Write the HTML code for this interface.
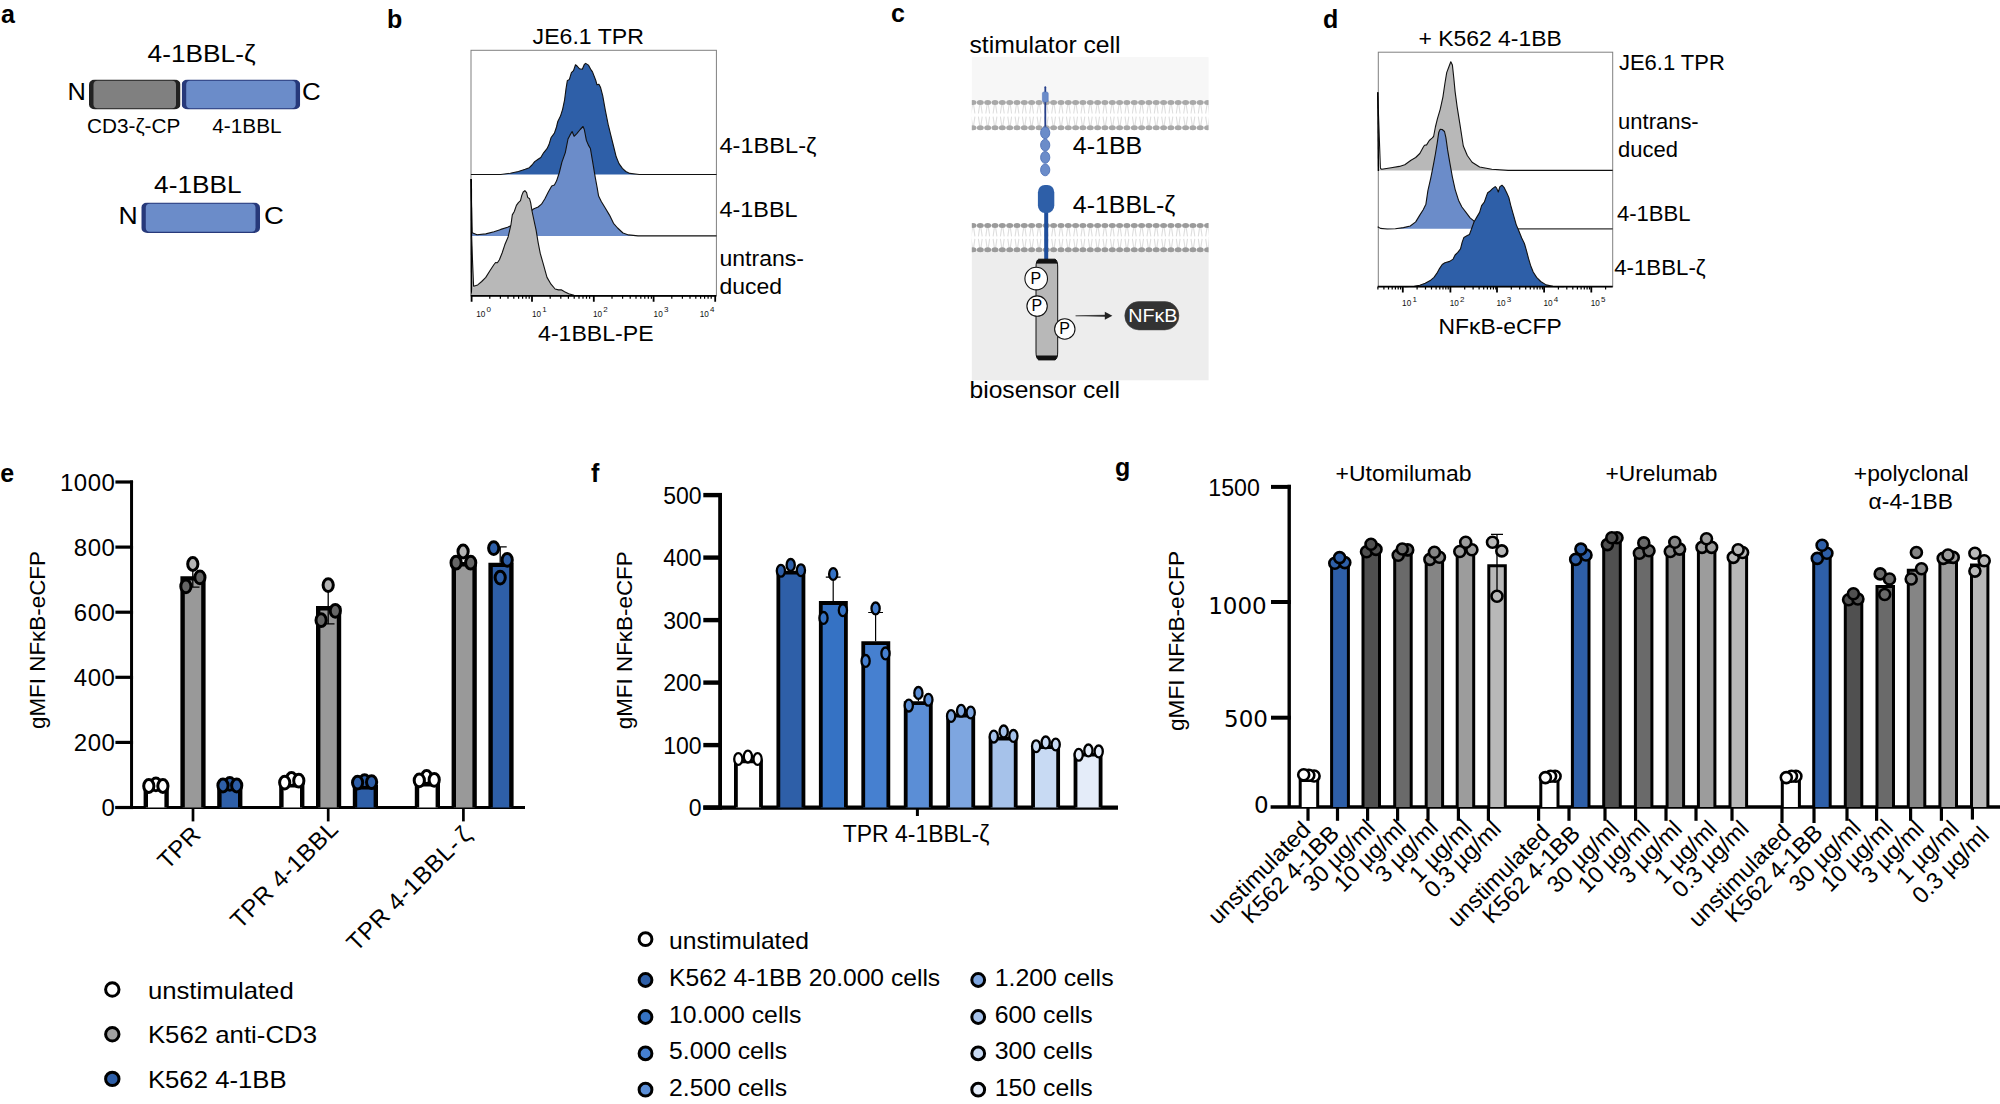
<!DOCTYPE html>
<html lang="en"><head><meta charset="utf-8"><title>Figure</title>
<style>
html,body{margin:0;padding:0;background:#fff;}
svg{display:block;font-family:'Liberation Sans', sans-serif;}
</style></head><body>
<svg width="2000" height="1104" viewBox="0 0 2000 1104">
<rect width="2000" height="1104" fill="#fff"/>
<text x="1.0" y="23.0" font-size="25.00" font-weight="bold">a</text>
<text x="387.0" y="28.0" font-size="25.00" font-weight="bold">b</text>
<text x="891.0" y="22.0" font-size="25.00" font-weight="bold">c</text>
<text x="1323.0" y="28.0" font-size="25.00" font-weight="bold">d</text>
<text x="147.6" y="62.2" font-size="24.00" textLength="107.9" lengthAdjust="spacingAndGlyphs">4-1BBL-ζ</text>
<text x="67.6" y="99.8" font-size="24.00" textLength="18.4" lengthAdjust="spacingAndGlyphs">N</text>
<text x="302.1" y="99.8" font-size="24.00" textLength="18.7" lengthAdjust="spacingAndGlyphs">C</text>
<text x="87.1" y="133.2" font-size="20.50" textLength="93.2" lengthAdjust="spacingAndGlyphs">CD3-ζ-CP</text>
<text x="212.3" y="133.2" font-size="20.50" textLength="69.3" lengthAdjust="spacingAndGlyphs">4-1BBL</text>
<text x="154.1" y="193.3" font-size="24.00" textLength="87.4" lengthAdjust="spacingAndGlyphs">4-1BBL</text>
<text x="118.6" y="223.8" font-size="24.00" textLength="19.2" lengthAdjust="spacingAndGlyphs">N</text>
<text x="264.1" y="223.8" font-size="24.00" textLength="19.9" lengthAdjust="spacingAndGlyphs">C</text>
<clipPath id="c890"><rect x="89.0" y="79.5" width="91.5" height="30.0" rx="6" ry="5"/></clipPath>
<g clip-path="url(#c890)">
<rect x="89.0" y="79.5" width="91.5" height="30.0" fill="#222222"/>
<rect x="93.5" y="80.8" width="82.5" height="27.4" rx="4" ry="4" fill="#808080"/>
</g>
<clipPath id="c1817"><rect x="181.7" y="79.5" width="118.5" height="30.0" rx="6" ry="5"/></clipPath>
<g clip-path="url(#c1817)">
<rect x="181.7" y="79.5" width="118.5" height="30.0" fill="#27397a"/>
<rect x="186.2" y="80.8" width="109.5" height="27.4" rx="4" ry="4" fill="#6b8cc9"/>
</g>
<clipPath id="c1413"><rect x="141.3" y="202.5" width="118.7" height="30.5" rx="6" ry="5"/></clipPath>
<g clip-path="url(#c1413)">
<rect x="141.3" y="202.5" width="118.7" height="30.5" fill="#27397a"/>
<rect x="145.8" y="203.8" width="109.7" height="27.9" rx="4" ry="4" fill="#6b8cc9"/>
</g>
<rect x="471.0" y="50.3" width="245.4" height="245.5" fill="none" stroke="#808080" stroke-width="1"/>
<path d="M470.9 174.5 L500.8 174.5 L510.3 173.2 L518.4 171.5 L525.2 169.3 L529.3 167.7 L532.0 165.0 L534.7 161.6 L538.1 159.3 L540.8 157.5 L543.6 152.8 L547.0 148.7 L549.0 144.6 L551.0 137.8 L554.4 133.1 L556.5 127.0 L557.8 121.5 L560.5 116.1 L562.6 109.3 L564.6 99.8 L566.0 88.9 L567.3 80.8 L569.4 79.4 L571.4 72.6 L573.5 70.6 L575.5 64.7 L577.5 66.5 L579.6 68.8 L582.3 69.2 L584.3 64.5 L585.7 63.4 L588.4 65.1 L591.1 69.9 L592.5 71.9 L595.9 80.8 L597.0 84.8 L598.9 84.2 L600.6 87.6 L602.7 95.7 L605.4 110.7 L608.1 124.2 L610.8 135.1 L613.5 146.0 L616.2 156.8 L619.0 163.6 L622.4 168.4 L625.8 171.5 L629.8 173.4 L639.3 174.5 L716.5 174.5 Z" fill="#2e5fa8" stroke="none"/>
<path d="M470.9 174.5 L500.8 174.5 L510.3 173.2 L518.4 171.5 L525.2 169.3 L529.3 167.7 L532.0 165.0 L534.7 161.6 L538.1 159.3 L540.8 157.5 L543.6 152.8 L547.0 148.7 L549.0 144.6 L551.0 137.8 L554.4 133.1 L556.5 127.0 L557.8 121.5 L560.5 116.1 L562.6 109.3 L564.6 99.8 L566.0 88.9 L567.3 80.8 L569.4 79.4 L571.4 72.6 L573.5 70.6 L575.5 64.7 L577.5 66.5 L579.6 68.8 L582.3 69.2 L584.3 64.5 L585.7 63.4 L588.4 65.1 L591.1 69.9 L592.5 71.9 L595.9 80.8 L597.0 84.8 L598.9 84.2 L600.6 87.6 L602.7 95.7 L605.4 110.7 L608.1 124.2 L610.8 135.1 L613.5 146.0 L616.2 156.8 L619.0 163.6 L622.4 168.4 L625.8 171.5 L629.8 173.4 L639.3 174.5 L716.5 174.5" fill="none" stroke="#111" stroke-width="1.1" stroke-linejoin="round"/>
<path d="M471.0 236.0 L472.2 232.8 L477.0 234.8 L485.8 233.9 L494.0 231.7 L500.8 229.4 L507.6 227.3 L514.3 223.9 L521.1 219.2 L527.9 213.8 L533.4 209.0 L538.1 207.0 L541.5 204.2 L544.9 198.8 L548.3 192.0 L551.7 185.9 L554.4 184.9 L556.5 181.1 L559.2 173.0 L561.9 162.1 L565.3 152.6 L568.0 139.0 L570.1 134.9 L572.1 131.5 L574.1 136.3 L576.8 133.6 L580.2 129.5 L583.0 126.5 L584.3 129.5 L586.4 140.4 L588.4 145.1 L590.4 148.5 L592.5 160.8 L595.2 177.1 L597.2 187.9 L598.6 196.1 L601.3 201.5 L605.4 208.3 L609.5 215.1 L613.5 223.3 L617.6 228.0 L623.0 233.0 L628.5 234.9 L638.0 235.9 L716.5 235.9 Z" fill="#6b8cc9" stroke="none"/>
<path d="M470.9 179.1 L472.2 232.8 L477.0 234.8 L485.8 233.9 L494.0 231.7 L500.8 229.4 L507.6 227.3 L514.3 223.9 L521.1 219.2 L527.9 213.8 L533.4 209.0 L538.1 207.0 L541.5 204.2 L544.9 198.8 L548.3 192.0 L551.7 185.9 L554.4 184.9 L556.5 181.1 L559.2 173.0 L561.9 162.1 L565.3 152.6 L568.0 139.0 L570.1 134.9 L572.1 131.5 L574.1 136.3 L576.8 133.6 L580.2 129.5 L583.0 126.5 L584.3 129.5 L586.4 140.4 L588.4 145.1 L590.4 148.5 L592.5 160.8 L595.2 177.1 L597.2 187.9 L598.6 196.1 L601.3 201.5 L605.4 208.3 L609.5 215.1 L613.5 223.3 L617.6 228.0 L623.0 233.0 L628.5 234.9 L638.0 235.9 L716.5 235.9" fill="none" stroke="#111" stroke-width="1.1" stroke-linejoin="round"/>
<path d="M471.2 179.0 L471.6 296.0" stroke="#000" stroke-width="1.6"/>
<path d="M471.0 295.8 L473.6 286.3 L477.7 284.9 L481.7 281.5 L485.8 277.4 L489.9 270.7 L494.0 264.5 L495.6 262.5 L497.4 262.8 L499.4 259.8 L502.1 253.0 L504.8 244.8 L508.2 236.7 L511.0 224.5 L512.3 214.9 L514.3 211.5 L516.4 205.4 L518.4 202.7 L520.5 200.7 L521.8 195.4 L523.2 192.0 L524.9 190.7 L526.6 192.7 L527.7 197.4 L529.6 198.8 L530.7 202.9 L532.0 211.0 L534.0 220.5 L536.1 230.1 L538.1 242.3 L540.2 253.2 L542.9 262.7 L547.0 277.4 L551.0 284.2 L555.1 289.0 L558.5 289.9 L561.2 289.7 L564.6 291.7 L568.7 293.8 L574.1 295.4 L716.1 295.8 Z" fill="#b8b8b8" stroke="none"/>
<path d="M471.5 236.7 L473.6 286.3 L477.7 284.9 L481.7 281.5 L485.8 277.4 L489.9 270.7 L494.0 264.5 L495.6 262.5 L497.4 262.8 L499.4 259.8 L502.1 253.0 L504.8 244.8 L508.2 236.7 L511.0 224.5 L512.3 214.9 L514.3 211.5 L516.4 205.4 L518.4 202.7 L520.5 200.7 L521.8 195.4 L523.2 192.0 L524.9 190.7 L526.6 192.7 L527.7 197.4 L529.6 198.8 L530.7 202.9 L532.0 211.0 L534.0 220.5 L536.1 230.1 L538.1 242.3 L540.2 253.2 L542.9 262.7 L547.0 277.4 L551.0 284.2 L555.1 289.0 L558.5 289.9 L561.2 289.7 L564.6 291.7 L568.7 293.8 L574.1 295.4 L716.1 295.8" fill="none" stroke="#111" stroke-width="1.1" stroke-linejoin="round"/>
<path d="M470.9 295.8 H716.2" stroke="#000" stroke-width="1.8"/>
<path d="M471.6 295.8 v6.0 M532.0 295.8 v6.0 M593.8 295.8 v6.0 M653.6 295.8 v6.0 M715.2 295.8 v6.0 " stroke="#000" stroke-width="1.8" fill="none"/>
<path d="M489.8 295.8 v3.0 M500.4 295.8 v3.0 M508.0 295.8 v3.0 M513.8 295.8 v3.0 M518.6 295.8 v3.0 M522.6 295.8 v3.0 M526.1 295.8 v3.0 M529.2 295.8 v3.0 M550.2 295.8 v3.0 M560.8 295.8 v3.0 M568.4 295.8 v3.0 M574.2 295.8 v3.0 M579.0 295.8 v3.0 M583.0 295.8 v3.0 M586.5 295.8 v3.0 M589.6 295.8 v3.0 M612.0 295.8 v3.0 M622.6 295.8 v3.0 M630.2 295.8 v3.0 M636.0 295.8 v3.0 M640.8 295.8 v3.0 M644.8 295.8 v3.0 M648.3 295.8 v3.0 M651.4 295.8 v3.0 M671.8 295.8 v3.0 M682.4 295.8 v3.0 M690.0 295.8 v3.0 M695.8 295.8 v3.0 M700.6 295.8 v3.0 M704.6 295.8 v3.0 M708.1 295.8 v3.0 M711.2 295.8 v3.0 " stroke="#000" stroke-width="1.2" fill="none"/>
<text x="476.3" y="316.6" font-size="8.2" fill="#111">10<tspan dx="1.2" dy="-4.2" font-size="8">0</tspan></text>
<text x="532.0" y="316.6" font-size="8.2" fill="#111">10<tspan dx="1.2" dy="-4.2" font-size="8">1</tspan></text>
<text x="593.0" y="316.6" font-size="8.2" fill="#111">10<tspan dx="1.2" dy="-4.2" font-size="8">2</tspan></text>
<text x="653.6" y="316.6" font-size="8.2" fill="#111">10<tspan dx="1.2" dy="-4.2" font-size="8">3</tspan></text>
<text x="699.8" y="316.6" font-size="8.2" fill="#111">10<tspan dx="1.2" dy="-4.2" font-size="8">4</tspan></text>
<text x="538.1" y="341.3" font-size="22.50" textLength="115.5" lengthAdjust="spacingAndGlyphs">4-1BBL-PE</text>
<text x="532.6" y="44.3" font-size="22.50" textLength="111.3" lengthAdjust="spacingAndGlyphs">JE6.1 TPR</text>
<text x="719.5" y="153.4" font-size="22.50" textLength="96.9" lengthAdjust="spacingAndGlyphs">4-1BBL-ζ</text>
<text x="719.5" y="216.5" font-size="22.50" textLength="78.0" lengthAdjust="spacingAndGlyphs">4-1BBL</text>
<text x="719.5" y="266.3" font-size="22.50" textLength="84.4" lengthAdjust="spacingAndGlyphs">untrans-</text>
<text x="719.5" y="294.2" font-size="22.50" textLength="62.5" lengthAdjust="spacingAndGlyphs">duced</text>
<rect x="971.8" y="57.1" width="236.8" height="58" fill="#f7f7f7"/>
<rect x="971.8" y="237" width="236.8" height="143.3" fill="#ededed"/>
<clipPath id="mc"><rect x="971.8" y="50" width="236.8" height="340"/></clipPath>
<g clip-path="url(#mc)">
<rect x="971.8" y="102.5" width="236.8" height="25.2" fill="#fff"/>
<path d="M972.4 104.5 L971.1 113.5 M972.4 125.7 L971.1 116.7 M973.6 104.5 L974.9 113.5 M973.6 125.7 L974.9 116.7 M979.7 104.5 L978.4 113.5 M979.7 125.7 L978.4 116.7 M980.9 104.5 L982.2 113.5 M980.9 125.7 L982.2 116.7 M987.1 104.5 L985.8 113.5 M987.1 125.7 L985.8 116.7 M988.3 104.5 L989.6 113.5 M988.3 125.7 L989.6 116.7 M994.4 104.5 L993.1 113.5 M994.4 125.7 L993.1 116.7 M995.6 104.5 L996.9 113.5 M995.6 125.7 L996.9 116.7 M1001.7 104.5 L1000.4 113.5 M1001.7 125.7 L1000.4 116.7 M1002.9 104.5 L1004.2 113.5 M1002.9 125.7 L1004.2 116.7 M1009.1 104.5 L1007.8 113.5 M1009.1 125.7 L1007.8 116.7 M1010.3 104.5 L1011.6 113.5 M1010.3 125.7 L1011.6 116.7 M1016.4 104.5 L1015.1 113.5 M1016.4 125.7 L1015.1 116.7 M1017.6 104.5 L1018.9 113.5 M1017.6 125.7 L1018.9 116.7 M1023.7 104.5 L1022.4 113.5 M1023.7 125.7 L1022.4 116.7 M1024.9 104.5 L1026.2 113.5 M1024.9 125.7 L1026.2 116.7 M1031.0 104.5 L1029.7 113.5 M1031.0 125.7 L1029.7 116.7 M1032.2 104.5 L1033.5 113.5 M1032.2 125.7 L1033.5 116.7 M1038.4 104.5 L1037.1 113.5 M1038.4 125.7 L1037.1 116.7 M1039.6 104.5 L1040.9 113.5 M1039.6 125.7 L1040.9 116.7 M1045.7 104.5 L1044.4 113.5 M1045.7 125.7 L1044.4 116.7 M1046.9 104.5 L1048.2 113.5 M1046.9 125.7 L1048.2 116.7 M1053.0 104.5 L1051.7 113.5 M1053.0 125.7 L1051.7 116.7 M1054.2 104.5 L1055.5 113.5 M1054.2 125.7 L1055.5 116.7 M1060.4 104.5 L1059.1 113.5 M1060.4 125.7 L1059.1 116.7 M1061.6 104.5 L1062.9 113.5 M1061.6 125.7 L1062.9 116.7 M1067.7 104.5 L1066.4 113.5 M1067.7 125.7 L1066.4 116.7 M1068.9 104.5 L1070.2 113.5 M1068.9 125.7 L1070.2 116.7 M1075.0 104.5 L1073.7 113.5 M1075.0 125.7 L1073.7 116.7 M1076.2 104.5 L1077.5 113.5 M1076.2 125.7 L1077.5 116.7 M1082.3 104.5 L1081.0 113.5 M1082.3 125.7 L1081.0 116.7 M1083.5 104.5 L1084.8 113.5 M1083.5 125.7 L1084.8 116.7 M1089.7 104.5 L1088.4 113.5 M1089.7 125.7 L1088.4 116.7 M1090.9 104.5 L1092.2 113.5 M1090.9 125.7 L1092.2 116.7 M1097.0 104.5 L1095.7 113.5 M1097.0 125.7 L1095.7 116.7 M1098.2 104.5 L1099.5 113.5 M1098.2 125.7 L1099.5 116.7 M1104.3 104.5 L1103.0 113.5 M1104.3 125.7 L1103.0 116.7 M1105.5 104.5 L1106.8 113.5 M1105.5 125.7 L1106.8 116.7 M1111.7 104.5 L1110.4 113.5 M1111.7 125.7 L1110.4 116.7 M1112.9 104.5 L1114.2 113.5 M1112.9 125.7 L1114.2 116.7 M1119.0 104.5 L1117.7 113.5 M1119.0 125.7 L1117.7 116.7 M1120.2 104.5 L1121.5 113.5 M1120.2 125.7 L1121.5 116.7 M1126.3 104.5 L1125.0 113.5 M1126.3 125.7 L1125.0 116.7 M1127.5 104.5 L1128.8 113.5 M1127.5 125.7 L1128.8 116.7 M1133.7 104.5 L1132.4 113.5 M1133.7 125.7 L1132.4 116.7 M1134.9 104.5 L1136.2 113.5 M1134.9 125.7 L1136.2 116.7 M1141.0 104.5 L1139.7 113.5 M1141.0 125.7 L1139.7 116.7 M1142.2 104.5 L1143.5 113.5 M1142.2 125.7 L1143.5 116.7 M1148.3 104.5 L1147.0 113.5 M1148.3 125.7 L1147.0 116.7 M1149.5 104.5 L1150.8 113.5 M1149.5 125.7 L1150.8 116.7 M1155.6 104.5 L1154.3 113.5 M1155.6 125.7 L1154.3 116.7 M1156.8 104.5 L1158.1 113.5 M1156.8 125.7 L1158.1 116.7 M1163.0 104.5 L1161.7 113.5 M1163.0 125.7 L1161.7 116.7 M1164.2 104.5 L1165.5 113.5 M1164.2 125.7 L1165.5 116.7 M1170.3 104.5 L1169.0 113.5 M1170.3 125.7 L1169.0 116.7 M1171.5 104.5 L1172.8 113.5 M1171.5 125.7 L1172.8 116.7 M1177.6 104.5 L1176.3 113.5 M1177.6 125.7 L1176.3 116.7 M1178.8 104.5 L1180.1 113.5 M1178.8 125.7 L1180.1 116.7 M1185.0 104.5 L1183.7 113.5 M1185.0 125.7 L1183.7 116.7 M1186.2 104.5 L1187.5 113.5 M1186.2 125.7 L1187.5 116.7 M1192.3 104.5 L1191.0 113.5 M1192.3 125.7 L1191.0 116.7 M1193.5 104.5 L1194.8 113.5 M1193.5 125.7 L1194.8 116.7 M1199.6 104.5 L1198.3 113.5 M1199.6 125.7 L1198.3 116.7 M1200.8 104.5 L1202.1 113.5 M1200.8 125.7 L1202.1 116.7 M1207.0 104.5 L1205.7 113.5 M1207.0 125.7 L1205.7 116.7 M1208.2 104.5 L1209.5 113.5 M1208.2 125.7 L1209.5 116.7 " stroke="#dedede" stroke-width="1.1" fill="none"/>
<g fill="#a8a8a8"><ellipse cx="973.0" cy="102.5" rx="3.5" ry="2.5"/><ellipse cx="973.0" cy="127.7" rx="3.5" ry="2.5"/><ellipse cx="980.3" cy="102.5" rx="3.5" ry="2.5"/><ellipse cx="980.3" cy="127.7" rx="3.5" ry="2.5"/><ellipse cx="987.7" cy="102.5" rx="3.5" ry="2.5"/><ellipse cx="987.7" cy="127.7" rx="3.5" ry="2.5"/><ellipse cx="995.0" cy="102.5" rx="3.5" ry="2.5"/><ellipse cx="995.0" cy="127.7" rx="3.5" ry="2.5"/><ellipse cx="1002.3" cy="102.5" rx="3.5" ry="2.5"/><ellipse cx="1002.3" cy="127.7" rx="3.5" ry="2.5"/><ellipse cx="1009.7" cy="102.5" rx="3.5" ry="2.5"/><ellipse cx="1009.7" cy="127.7" rx="3.5" ry="2.5"/><ellipse cx="1017.0" cy="102.5" rx="3.5" ry="2.5"/><ellipse cx="1017.0" cy="127.7" rx="3.5" ry="2.5"/><ellipse cx="1024.3" cy="102.5" rx="3.5" ry="2.5"/><ellipse cx="1024.3" cy="127.7" rx="3.5" ry="2.5"/><ellipse cx="1031.6" cy="102.5" rx="3.5" ry="2.5"/><ellipse cx="1031.6" cy="127.7" rx="3.5" ry="2.5"/><ellipse cx="1039.0" cy="102.5" rx="3.5" ry="2.5"/><ellipse cx="1039.0" cy="127.7" rx="3.5" ry="2.5"/><ellipse cx="1046.3" cy="102.5" rx="3.5" ry="2.5"/><ellipse cx="1046.3" cy="127.7" rx="3.5" ry="2.5"/><ellipse cx="1053.6" cy="102.5" rx="3.5" ry="2.5"/><ellipse cx="1053.6" cy="127.7" rx="3.5" ry="2.5"/><ellipse cx="1061.0" cy="102.5" rx="3.5" ry="2.5"/><ellipse cx="1061.0" cy="127.7" rx="3.5" ry="2.5"/><ellipse cx="1068.3" cy="102.5" rx="3.5" ry="2.5"/><ellipse cx="1068.3" cy="127.7" rx="3.5" ry="2.5"/><ellipse cx="1075.6" cy="102.5" rx="3.5" ry="2.5"/><ellipse cx="1075.6" cy="127.7" rx="3.5" ry="2.5"/><ellipse cx="1082.9" cy="102.5" rx="3.5" ry="2.5"/><ellipse cx="1082.9" cy="127.7" rx="3.5" ry="2.5"/><ellipse cx="1090.3" cy="102.5" rx="3.5" ry="2.5"/><ellipse cx="1090.3" cy="127.7" rx="3.5" ry="2.5"/><ellipse cx="1097.6" cy="102.5" rx="3.5" ry="2.5"/><ellipse cx="1097.6" cy="127.7" rx="3.5" ry="2.5"/><ellipse cx="1104.9" cy="102.5" rx="3.5" ry="2.5"/><ellipse cx="1104.9" cy="127.7" rx="3.5" ry="2.5"/><ellipse cx="1112.3" cy="102.5" rx="3.5" ry="2.5"/><ellipse cx="1112.3" cy="127.7" rx="3.5" ry="2.5"/><ellipse cx="1119.6" cy="102.5" rx="3.5" ry="2.5"/><ellipse cx="1119.6" cy="127.7" rx="3.5" ry="2.5"/><ellipse cx="1126.9" cy="102.5" rx="3.5" ry="2.5"/><ellipse cx="1126.9" cy="127.7" rx="3.5" ry="2.5"/><ellipse cx="1134.3" cy="102.5" rx="3.5" ry="2.5"/><ellipse cx="1134.3" cy="127.7" rx="3.5" ry="2.5"/><ellipse cx="1141.6" cy="102.5" rx="3.5" ry="2.5"/><ellipse cx="1141.6" cy="127.7" rx="3.5" ry="2.5"/><ellipse cx="1148.9" cy="102.5" rx="3.5" ry="2.5"/><ellipse cx="1148.9" cy="127.7" rx="3.5" ry="2.5"/><ellipse cx="1156.2" cy="102.5" rx="3.5" ry="2.5"/><ellipse cx="1156.2" cy="127.7" rx="3.5" ry="2.5"/><ellipse cx="1163.6" cy="102.5" rx="3.5" ry="2.5"/><ellipse cx="1163.6" cy="127.7" rx="3.5" ry="2.5"/><ellipse cx="1170.9" cy="102.5" rx="3.5" ry="2.5"/><ellipse cx="1170.9" cy="127.7" rx="3.5" ry="2.5"/><ellipse cx="1178.2" cy="102.5" rx="3.5" ry="2.5"/><ellipse cx="1178.2" cy="127.7" rx="3.5" ry="2.5"/><ellipse cx="1185.6" cy="102.5" rx="3.5" ry="2.5"/><ellipse cx="1185.6" cy="127.7" rx="3.5" ry="2.5"/><ellipse cx="1192.9" cy="102.5" rx="3.5" ry="2.5"/><ellipse cx="1192.9" cy="127.7" rx="3.5" ry="2.5"/><ellipse cx="1200.2" cy="102.5" rx="3.5" ry="2.5"/><ellipse cx="1200.2" cy="127.7" rx="3.5" ry="2.5"/><ellipse cx="1207.6" cy="102.5" rx="3.5" ry="2.5"/><ellipse cx="1207.6" cy="127.7" rx="3.5" ry="2.5"/></g>
</g>
<g clip-path="url(#mc)">
<rect x="971.8" y="225.4" width="236.8" height="24.4" fill="#fff"/>
<path d="M972.4 227.4 L971.1 236.4 M972.4 247.8 L971.1 238.8 M973.6 227.4 L974.9 236.4 M973.6 247.8 L974.9 238.8 M979.7 227.4 L978.4 236.4 M979.7 247.8 L978.4 238.8 M980.9 227.4 L982.2 236.4 M980.9 247.8 L982.2 238.8 M987.1 227.4 L985.8 236.4 M987.1 247.8 L985.8 238.8 M988.3 227.4 L989.6 236.4 M988.3 247.8 L989.6 238.8 M994.4 227.4 L993.1 236.4 M994.4 247.8 L993.1 238.8 M995.6 227.4 L996.9 236.4 M995.6 247.8 L996.9 238.8 M1001.7 227.4 L1000.4 236.4 M1001.7 247.8 L1000.4 238.8 M1002.9 227.4 L1004.2 236.4 M1002.9 247.8 L1004.2 238.8 M1009.1 227.4 L1007.8 236.4 M1009.1 247.8 L1007.8 238.8 M1010.3 227.4 L1011.6 236.4 M1010.3 247.8 L1011.6 238.8 M1016.4 227.4 L1015.1 236.4 M1016.4 247.8 L1015.1 238.8 M1017.6 227.4 L1018.9 236.4 M1017.6 247.8 L1018.9 238.8 M1023.7 227.4 L1022.4 236.4 M1023.7 247.8 L1022.4 238.8 M1024.9 227.4 L1026.2 236.4 M1024.9 247.8 L1026.2 238.8 M1031.0 227.4 L1029.7 236.4 M1031.0 247.8 L1029.7 238.8 M1032.2 227.4 L1033.5 236.4 M1032.2 247.8 L1033.5 238.8 M1038.4 227.4 L1037.1 236.4 M1038.4 247.8 L1037.1 238.8 M1039.6 227.4 L1040.9 236.4 M1039.6 247.8 L1040.9 238.8 M1045.7 227.4 L1044.4 236.4 M1045.7 247.8 L1044.4 238.8 M1046.9 227.4 L1048.2 236.4 M1046.9 247.8 L1048.2 238.8 M1053.0 227.4 L1051.7 236.4 M1053.0 247.8 L1051.7 238.8 M1054.2 227.4 L1055.5 236.4 M1054.2 247.8 L1055.5 238.8 M1060.4 227.4 L1059.1 236.4 M1060.4 247.8 L1059.1 238.8 M1061.6 227.4 L1062.9 236.4 M1061.6 247.8 L1062.9 238.8 M1067.7 227.4 L1066.4 236.4 M1067.7 247.8 L1066.4 238.8 M1068.9 227.4 L1070.2 236.4 M1068.9 247.8 L1070.2 238.8 M1075.0 227.4 L1073.7 236.4 M1075.0 247.8 L1073.7 238.8 M1076.2 227.4 L1077.5 236.4 M1076.2 247.8 L1077.5 238.8 M1082.3 227.4 L1081.0 236.4 M1082.3 247.8 L1081.0 238.8 M1083.5 227.4 L1084.8 236.4 M1083.5 247.8 L1084.8 238.8 M1089.7 227.4 L1088.4 236.4 M1089.7 247.8 L1088.4 238.8 M1090.9 227.4 L1092.2 236.4 M1090.9 247.8 L1092.2 238.8 M1097.0 227.4 L1095.7 236.4 M1097.0 247.8 L1095.7 238.8 M1098.2 227.4 L1099.5 236.4 M1098.2 247.8 L1099.5 238.8 M1104.3 227.4 L1103.0 236.4 M1104.3 247.8 L1103.0 238.8 M1105.5 227.4 L1106.8 236.4 M1105.5 247.8 L1106.8 238.8 M1111.7 227.4 L1110.4 236.4 M1111.7 247.8 L1110.4 238.8 M1112.9 227.4 L1114.2 236.4 M1112.9 247.8 L1114.2 238.8 M1119.0 227.4 L1117.7 236.4 M1119.0 247.8 L1117.7 238.8 M1120.2 227.4 L1121.5 236.4 M1120.2 247.8 L1121.5 238.8 M1126.3 227.4 L1125.0 236.4 M1126.3 247.8 L1125.0 238.8 M1127.5 227.4 L1128.8 236.4 M1127.5 247.8 L1128.8 238.8 M1133.7 227.4 L1132.4 236.4 M1133.7 247.8 L1132.4 238.8 M1134.9 227.4 L1136.2 236.4 M1134.9 247.8 L1136.2 238.8 M1141.0 227.4 L1139.7 236.4 M1141.0 247.8 L1139.7 238.8 M1142.2 227.4 L1143.5 236.4 M1142.2 247.8 L1143.5 238.8 M1148.3 227.4 L1147.0 236.4 M1148.3 247.8 L1147.0 238.8 M1149.5 227.4 L1150.8 236.4 M1149.5 247.8 L1150.8 238.8 M1155.6 227.4 L1154.3 236.4 M1155.6 247.8 L1154.3 238.8 M1156.8 227.4 L1158.1 236.4 M1156.8 247.8 L1158.1 238.8 M1163.0 227.4 L1161.7 236.4 M1163.0 247.8 L1161.7 238.8 M1164.2 227.4 L1165.5 236.4 M1164.2 247.8 L1165.5 238.8 M1170.3 227.4 L1169.0 236.4 M1170.3 247.8 L1169.0 238.8 M1171.5 227.4 L1172.8 236.4 M1171.5 247.8 L1172.8 238.8 M1177.6 227.4 L1176.3 236.4 M1177.6 247.8 L1176.3 238.8 M1178.8 227.4 L1180.1 236.4 M1178.8 247.8 L1180.1 238.8 M1185.0 227.4 L1183.7 236.4 M1185.0 247.8 L1183.7 238.8 M1186.2 227.4 L1187.5 236.4 M1186.2 247.8 L1187.5 238.8 M1192.3 227.4 L1191.0 236.4 M1192.3 247.8 L1191.0 238.8 M1193.5 227.4 L1194.8 236.4 M1193.5 247.8 L1194.8 238.8 M1199.6 227.4 L1198.3 236.4 M1199.6 247.8 L1198.3 238.8 M1200.8 227.4 L1202.1 236.4 M1200.8 247.8 L1202.1 238.8 M1207.0 227.4 L1205.7 236.4 M1207.0 247.8 L1205.7 238.8 M1208.2 227.4 L1209.5 236.4 M1208.2 247.8 L1209.5 238.8 " stroke="#dedede" stroke-width="1.1" fill="none"/>
<g fill="#9b9b9b"><ellipse cx="973.0" cy="225.4" rx="3.5" ry="2.5"/><ellipse cx="973.0" cy="249.8" rx="3.5" ry="2.5"/><ellipse cx="980.3" cy="225.4" rx="3.5" ry="2.5"/><ellipse cx="980.3" cy="249.8" rx="3.5" ry="2.5"/><ellipse cx="987.7" cy="225.4" rx="3.5" ry="2.5"/><ellipse cx="987.7" cy="249.8" rx="3.5" ry="2.5"/><ellipse cx="995.0" cy="225.4" rx="3.5" ry="2.5"/><ellipse cx="995.0" cy="249.8" rx="3.5" ry="2.5"/><ellipse cx="1002.3" cy="225.4" rx="3.5" ry="2.5"/><ellipse cx="1002.3" cy="249.8" rx="3.5" ry="2.5"/><ellipse cx="1009.7" cy="225.4" rx="3.5" ry="2.5"/><ellipse cx="1009.7" cy="249.8" rx="3.5" ry="2.5"/><ellipse cx="1017.0" cy="225.4" rx="3.5" ry="2.5"/><ellipse cx="1017.0" cy="249.8" rx="3.5" ry="2.5"/><ellipse cx="1024.3" cy="225.4" rx="3.5" ry="2.5"/><ellipse cx="1024.3" cy="249.8" rx="3.5" ry="2.5"/><ellipse cx="1031.6" cy="225.4" rx="3.5" ry="2.5"/><ellipse cx="1031.6" cy="249.8" rx="3.5" ry="2.5"/><ellipse cx="1039.0" cy="225.4" rx="3.5" ry="2.5"/><ellipse cx="1039.0" cy="249.8" rx="3.5" ry="2.5"/><ellipse cx="1046.3" cy="225.4" rx="3.5" ry="2.5"/><ellipse cx="1046.3" cy="249.8" rx="3.5" ry="2.5"/><ellipse cx="1053.6" cy="225.4" rx="3.5" ry="2.5"/><ellipse cx="1053.6" cy="249.8" rx="3.5" ry="2.5"/><ellipse cx="1061.0" cy="225.4" rx="3.5" ry="2.5"/><ellipse cx="1061.0" cy="249.8" rx="3.5" ry="2.5"/><ellipse cx="1068.3" cy="225.4" rx="3.5" ry="2.5"/><ellipse cx="1068.3" cy="249.8" rx="3.5" ry="2.5"/><ellipse cx="1075.6" cy="225.4" rx="3.5" ry="2.5"/><ellipse cx="1075.6" cy="249.8" rx="3.5" ry="2.5"/><ellipse cx="1082.9" cy="225.4" rx="3.5" ry="2.5"/><ellipse cx="1082.9" cy="249.8" rx="3.5" ry="2.5"/><ellipse cx="1090.3" cy="225.4" rx="3.5" ry="2.5"/><ellipse cx="1090.3" cy="249.8" rx="3.5" ry="2.5"/><ellipse cx="1097.6" cy="225.4" rx="3.5" ry="2.5"/><ellipse cx="1097.6" cy="249.8" rx="3.5" ry="2.5"/><ellipse cx="1104.9" cy="225.4" rx="3.5" ry="2.5"/><ellipse cx="1104.9" cy="249.8" rx="3.5" ry="2.5"/><ellipse cx="1112.3" cy="225.4" rx="3.5" ry="2.5"/><ellipse cx="1112.3" cy="249.8" rx="3.5" ry="2.5"/><ellipse cx="1119.6" cy="225.4" rx="3.5" ry="2.5"/><ellipse cx="1119.6" cy="249.8" rx="3.5" ry="2.5"/><ellipse cx="1126.9" cy="225.4" rx="3.5" ry="2.5"/><ellipse cx="1126.9" cy="249.8" rx="3.5" ry="2.5"/><ellipse cx="1134.3" cy="225.4" rx="3.5" ry="2.5"/><ellipse cx="1134.3" cy="249.8" rx="3.5" ry="2.5"/><ellipse cx="1141.6" cy="225.4" rx="3.5" ry="2.5"/><ellipse cx="1141.6" cy="249.8" rx="3.5" ry="2.5"/><ellipse cx="1148.9" cy="225.4" rx="3.5" ry="2.5"/><ellipse cx="1148.9" cy="249.8" rx="3.5" ry="2.5"/><ellipse cx="1156.2" cy="225.4" rx="3.5" ry="2.5"/><ellipse cx="1156.2" cy="249.8" rx="3.5" ry="2.5"/><ellipse cx="1163.6" cy="225.4" rx="3.5" ry="2.5"/><ellipse cx="1163.6" cy="249.8" rx="3.5" ry="2.5"/><ellipse cx="1170.9" cy="225.4" rx="3.5" ry="2.5"/><ellipse cx="1170.9" cy="249.8" rx="3.5" ry="2.5"/><ellipse cx="1178.2" cy="225.4" rx="3.5" ry="2.5"/><ellipse cx="1178.2" cy="249.8" rx="3.5" ry="2.5"/><ellipse cx="1185.6" cy="225.4" rx="3.5" ry="2.5"/><ellipse cx="1185.6" cy="249.8" rx="3.5" ry="2.5"/><ellipse cx="1192.9" cy="225.4" rx="3.5" ry="2.5"/><ellipse cx="1192.9" cy="249.8" rx="3.5" ry="2.5"/><ellipse cx="1200.2" cy="225.4" rx="3.5" ry="2.5"/><ellipse cx="1200.2" cy="249.8" rx="3.5" ry="2.5"/><ellipse cx="1207.6" cy="225.4" rx="3.5" ry="2.5"/><ellipse cx="1207.6" cy="249.8" rx="3.5" ry="2.5"/></g>
</g>
<text x="969.5" y="53.0" font-size="24.00" textLength="151.1" lengthAdjust="spacingAndGlyphs">stimulator cell</text>
<text x="969.5" y="397.9" font-size="24.00" textLength="150.5" lengthAdjust="spacingAndGlyphs">biosensor cell</text>
<path d="M1045.3 87.2 V128" stroke="#27408b" stroke-width="1.8" stroke-linecap="round"/>
<rect x="1042.4" y="92" width="5.8" height="10" rx="1.5" fill="#6b8cc9" stroke="#5575bd" stroke-width="0.6"/>
<ellipse cx="1045.2" cy="132.8" rx="4.6" ry="5.9" fill="#6b8cc9" stroke="#4f72b8" stroke-width="0.9"/>
<ellipse cx="1045.2" cy="145.1" rx="4.6" ry="5.9" fill="#6b8cc9" stroke="#4f72b8" stroke-width="0.9"/>
<ellipse cx="1045.2" cy="157.4" rx="4.6" ry="5.9" fill="#6b8cc9" stroke="#4f72b8" stroke-width="0.9"/>
<ellipse cx="1045.2" cy="169.9" rx="4.6" ry="5.9" fill="#6b8cc9" stroke="#4f72b8" stroke-width="0.9"/>
<text x="1072.8" y="154.0" font-size="24.00" textLength="69.5" lengthAdjust="spacingAndGlyphs">4-1BB</text>
<text x="1072.8" y="213.0" font-size="24.00" textLength="102.5" lengthAdjust="spacingAndGlyphs">4-1BBL-ζ</text>
<path d="M1046.2 205 V260" stroke="#1f4e9c" stroke-width="4"/>
<rect x="1037.9" y="184.9" width="16.4" height="28" rx="7" ry="7.5" fill="#2e5fa8"/>
<clipPath id="rz"><path d="M1038.6 259.2 H1055.1 Q1057.7 260.6 1057.7 267 V352 Q1057.7 358.4 1055.1 359.9 H1038.6 Q1036 358.4 1036 352 V267 Q1036 260.6 1038.6 259.2 Z"/></clipPath>
<path d="M1038.6 259.2 H1055.1 Q1057.7 260.6 1057.7 267 V352 Q1057.7 358.4 1055.1 359.9 H1038.6 Q1036 358.4 1036 352 V267 Q1036 260.6 1038.6 259.2 Z" fill="#b8b8b8" stroke="#111" stroke-width="1"/>
<g clip-path="url(#rz)"><rect x="1030" y="258" width="34" height="5.6" fill="#111"/><rect x="1030" y="355.5" width="34" height="6" fill="#111"/></g>
<circle cx="1036.2" cy="278.6" r="11.3" fill="#fff" stroke="#111" stroke-width="1.1"/>
<text x="1035.9" y="283.9" font-size="16.00" text-anchor="middle">P</text>
<circle cx="1037.1" cy="306.1" r="10.2" fill="#fff" stroke="#111" stroke-width="1.1"/>
<text x="1036.8" y="311.4" font-size="16.00" text-anchor="middle">P</text>
<circle cx="1064.8" cy="329.0" r="10.2" fill="#fff" stroke="#111" stroke-width="1.1"/>
<text x="1064.5" y="334.3" font-size="16.00" text-anchor="middle">P</text>
<path d="M1075.6 315.8 L1106 315.1 V316.5 Z" fill="#222" stroke="#222" stroke-width="0.5"/>
<path d="M1112.4 315.8 L1104.8 311.8 L1104.8 319.8 Z" fill="#222"/>
<rect x="1124.8" y="301.6" width="54.1" height="28.3" rx="14" ry="14.1" fill="#333" stroke="#444" stroke-width="0.6"/>
<text x="1128.2" y="322.0" font-size="19.00" textLength="49.3" lengthAdjust="spacingAndGlyphs" fill="#fff">NFκB</text>
<rect x="1378.3" y="52.2" width="234.4" height="234.5" fill="none" stroke="#808080" stroke-width="1"/>
<path d="M1378.3 170.5 L1380.4 168.4 L1381.7 169.3 L1391.2 167.7 L1399.4 166.4 L1404.8 164.7 L1411.0 160.2 L1415.7 157.5 L1419.8 153.5 L1423.2 147.3 L1424.5 145.3 L1426.6 144.9 L1429.3 140.5 L1432.0 138.1 L1433.6 136.5 L1435.4 127.0 L1437.4 118.8 L1440.2 109.3 L1442.9 97.1 L1444.9 83.5 L1446.7 72.6 L1449.0 66.5 L1450.8 61.7 L1452.4 65.1 L1453.8 78.0 L1455.1 91.6 L1457.1 106.6 L1459.9 124.2 L1463.3 146.0 L1467.3 155.5 L1472.1 162.3 L1479.6 167.0 L1491.8 169.3 L1508.1 170.4 L1612.7 170.4 Z" fill="#b8b8b8" stroke="none"/>
<path d="M1377.7 92.3 L1380.4 168.4 L1381.7 169.3 L1391.2 167.7 L1399.4 166.4 L1404.8 164.7 L1411.0 160.2 L1415.7 157.5 L1419.8 153.5 L1423.2 147.3 L1424.5 145.3 L1426.6 144.9 L1429.3 140.5 L1432.0 138.1 L1433.6 136.5 L1435.4 127.0 L1437.4 118.8 L1440.2 109.3 L1442.9 97.1 L1444.9 83.5 L1446.7 72.6 L1449.0 66.5 L1450.8 61.7 L1452.4 65.1 L1453.8 78.0 L1455.1 91.6 L1457.1 106.6 L1459.9 124.2 L1463.3 146.0 L1467.3 155.5 L1472.1 162.3 L1479.6 167.0 L1491.8 169.3 L1508.1 170.4 L1612.7 170.4" fill="none" stroke="#111" stroke-width="1.1" stroke-linejoin="round"/>
<path d="M1378.3 228.7 L1380.4 228.4 L1387.2 229.0 L1395.3 228.7 L1403.5 227.6 L1410.3 226.0 L1415.7 221.9 L1419.8 215.1 L1423.2 209.7 L1425.9 204.2 L1427.9 190.7 L1430.7 178.4 L1433.4 164.8 L1435.4 154.0 L1437.2 143.1 L1438.8 132.2 L1440.2 129.2 L1442.2 129.5 L1444.5 131.5 L1445.9 137.7 L1447.6 149.9 L1449.7 162.1 L1452.4 177.1 L1455.1 189.3 L1458.5 200.2 L1461.9 207.0 L1466.0 212.4 L1470.1 217.8 L1474.1 221.2 L1479.6 225.3 L1487.7 228.0 L1495.9 228.7 L1612.7 228.7 Z" fill="#6b8cc9" stroke="none"/>
<path d="M1377.7 226.7 L1380.4 228.4 L1387.2 229.0 L1395.3 228.7 L1403.5 227.6 L1410.3 226.0 L1415.7 221.9 L1419.8 215.1 L1423.2 209.7 L1425.9 204.2 L1427.9 190.7 L1430.7 178.4 L1433.4 164.8 L1435.4 154.0 L1437.2 143.1 L1438.8 132.2 L1440.2 129.2 L1442.2 129.5 L1444.5 131.5 L1445.9 137.7 L1447.6 149.9 L1449.7 162.1 L1452.4 177.1 L1455.1 189.3 L1458.5 200.2 L1461.9 207.0 L1466.0 212.4 L1470.1 217.8 L1474.1 221.2 L1479.6 225.3 L1487.7 228.0 L1495.9 228.7 L1612.7 228.7" fill="none" stroke="#111" stroke-width="1.1" stroke-linejoin="round"/>
<path d="M1500.0 228.7 H1612.7" stroke="#666" stroke-width="1.4"/>
<path d="M1404.8 286.7 L1414.3 286.3 L1419.8 285.3 L1425.2 283.2 L1430.7 280.2 L1434.0 277.4 L1436.8 273.4 L1439.5 268.6 L1442.2 264.5 L1444.9 262.8 L1449.7 261.4 L1453.1 259.1 L1455.1 255.0 L1457.8 252.3 L1460.5 248.9 L1462.2 242.1 L1463.9 237.4 L1467.3 235.6 L1469.4 234.6 L1471.4 229.2 L1474.1 221.7 L1476.8 217.1 L1479.6 212.4 L1481.6 205.6 L1484.3 202.2 L1486.4 196.1 L1487.7 192.7 L1489.8 191.3 L1492.5 188.6 L1495.2 186.6 L1496.5 187.9 L1498.3 192.0 L1499.9 186.6 L1502.0 185.2 L1504.0 187.3 L1506.7 192.7 L1508.8 197.4 L1510.8 205.6 L1513.5 215.1 L1516.2 224.6 L1519.0 231.2 L1521.7 238.0 L1524.4 243.5 L1526.4 250.3 L1528.5 258.4 L1530.5 265.2 L1533.2 272.0 L1536.6 277.4 L1540.7 281.5 L1546.1 284.9 L1552.9 286.4 L1563.8 286.7 Z" fill="#2e5fa8" stroke="none"/>
<path d="M1404.8 286.7 L1414.3 286.3 L1419.8 285.3 L1425.2 283.2 L1430.7 280.2 L1434.0 277.4 L1436.8 273.4 L1439.5 268.6 L1442.2 264.5 L1444.9 262.8 L1449.7 261.4 L1453.1 259.1 L1455.1 255.0 L1457.8 252.3 L1460.5 248.9 L1462.2 242.1 L1463.9 237.4 L1467.3 235.6 L1469.4 234.6 L1471.4 229.2 L1474.1 221.7 L1476.8 217.1 L1479.6 212.4 L1481.6 205.6 L1484.3 202.2 L1486.4 196.1 L1487.7 192.7 L1489.8 191.3 L1492.5 188.6 L1495.2 186.6 L1496.5 187.9 L1498.3 192.0 L1499.9 186.6 L1502.0 185.2 L1504.0 187.3 L1506.7 192.7 L1508.8 197.4 L1510.8 205.6 L1513.5 215.1 L1516.2 224.6 L1519.0 231.2 L1521.7 238.0 L1524.4 243.5 L1526.4 250.3 L1528.5 258.4 L1530.5 265.2 L1533.2 272.0 L1536.6 277.4 L1540.7 281.5 L1546.1 284.9 L1552.9 286.4 L1563.8 286.7" fill="none" stroke="#111" stroke-width="1.1" stroke-linejoin="round"/>
<path d="M1377.8 92.3 L1378.4 171.0" stroke="#000" stroke-width="1.4"/>
<path d="M1377.7 286.7 H1612.7" stroke="#000" stroke-width="1.8"/>
<path d="M1402.8 286.7 v5.7 M1450.4 286.7 v5.7 M1497.0 286.7 v5.7 M1544.1 286.7 v5.7 M1591.3 286.7 v5.7 " stroke="#000" stroke-width="1.8" fill="none"/>
<path d="M1377.9 286.7 v2.9 M1383.9 286.7 v2.9 M1388.5 286.7 v2.9 M1392.2 286.7 v2.9 M1395.4 286.7 v2.9 M1398.2 286.7 v2.9 M1400.6 286.7 v2.9 M1417.1 286.7 v2.9 M1425.5 286.7 v2.9 M1431.5 286.7 v2.9 M1436.1 286.7 v2.9 M1439.8 286.7 v2.9 M1443.0 286.7 v2.9 M1445.8 286.7 v2.9 M1448.2 286.7 v2.9 M1464.7 286.7 v2.9 M1473.1 286.7 v2.9 M1479.1 286.7 v2.9 M1483.7 286.7 v2.9 M1487.4 286.7 v2.9 M1490.6 286.7 v2.9 M1493.4 286.7 v2.9 M1495.8 286.7 v2.9 M1511.3 286.7 v2.9 M1519.7 286.7 v2.9 M1525.7 286.7 v2.9 M1530.3 286.7 v2.9 M1534.0 286.7 v2.9 M1537.2 286.7 v2.9 M1540.0 286.7 v2.9 M1542.4 286.7 v2.9 M1558.4 286.7 v2.9 M1566.8 286.7 v2.9 M1572.8 286.7 v2.9 M1577.4 286.7 v2.9 M1581.1 286.7 v2.9 M1584.3 286.7 v2.9 M1587.1 286.7 v2.9 M1589.5 286.7 v2.9 M1605.6 286.7 v2.9 " stroke="#000" stroke-width="1.2" fill="none"/>
<text x="1402.1" y="305.7" font-size="8.2" fill="#111">10<tspan dx="1.2" dy="-4.2" font-size="8">1</tspan></text>
<text x="1449.7" y="305.7" font-size="8.2" fill="#111">10<tspan dx="1.2" dy="-4.2" font-size="8">2</tspan></text>
<text x="1496.5" y="305.7" font-size="8.2" fill="#111">10<tspan dx="1.2" dy="-4.2" font-size="8">3</tspan></text>
<text x="1543.4" y="305.7" font-size="8.2" fill="#111">10<tspan dx="1.2" dy="-4.2" font-size="8">4</tspan></text>
<text x="1590.7" y="305.7" font-size="8.2" fill="#111">10<tspan dx="1.2" dy="-4.2" font-size="8">5</tspan></text>
<text x="1438.6" y="333.8" font-size="22.50" textLength="123.2" lengthAdjust="spacingAndGlyphs">NFκB-eCFP</text>
<text x="1418.5" y="46.3" font-size="22.50" textLength="143.2" lengthAdjust="spacingAndGlyphs">+ K562 4-1BB</text>
<text x="1618.9" y="69.6" font-size="22.50" textLength="105.9" lengthAdjust="spacingAndGlyphs">JE6.1 TPR</text>
<text x="1618.1" y="129.2" font-size="22.50" textLength="80.6" lengthAdjust="spacingAndGlyphs">untrans-</text>
<text x="1618.1" y="156.6" font-size="22.50" textLength="59.8" lengthAdjust="spacingAndGlyphs">duced</text>
<text x="1616.9" y="221.0" font-size="22.50" textLength="73.7" lengthAdjust="spacingAndGlyphs">4-1BBL</text>
<text x="1614.2" y="275.1" font-size="22.50" textLength="91.5" lengthAdjust="spacingAndGlyphs">4-1BBL-ζ</text>
<text x="0.3" y="482.0" font-size="25.00" font-weight="bold">e</text>
<text x="591.0" y="482.0" font-size="25.00" font-weight="bold">f</text>
<text x="1115.0" y="475.8" font-size="25.00" font-weight="bold">g</text>
<path d="M115.4 807.5 H525" stroke="#000" stroke-width="2.9"/>
<path d="M131.55 480.4 V807.5" stroke="#000" stroke-width="3.00"/>
<path d="M115.4 482.00 H133.05" stroke="#000" stroke-width="3.20"/>
<text x="115.5" y="490.9" font-size="24.00" text-anchor="end" letter-spacing="0.55">1000</text>
<path d="M115.4 547.10 H133.05" stroke="#000" stroke-width="3.20"/>
<text x="115.5" y="556.0" font-size="24.00" text-anchor="end" letter-spacing="0.55">800</text>
<path d="M115.4 612.20 H133.05" stroke="#000" stroke-width="3.20"/>
<text x="115.5" y="621.1" font-size="24.00" text-anchor="end" letter-spacing="0.55">600</text>
<path d="M115.4 677.30 H133.05" stroke="#000" stroke-width="3.20"/>
<text x="115.5" y="686.2" font-size="24.00" text-anchor="end" letter-spacing="0.55">400</text>
<path d="M115.4 742.40 H133.05" stroke="#000" stroke-width="3.20"/>
<text x="115.5" y="751.3" font-size="24.00" text-anchor="end" letter-spacing="0.55">200</text>
<path d="M115.4 807.50 H133.05" stroke="#000" stroke-width="3.20"/>
<text x="115.5" y="816.4" font-size="24.00" text-anchor="end" letter-spacing="0.55">0</text>
<text x="44.5" y="640.0" font-size="22.00" text-anchor="middle" textLength="178.0" lengthAdjust="spacingAndGlyphs" transform="rotate(-90 44.5 640.0)">gMFI NFκB-eCFP</text>
<path d="M193.0 807.5 V821.4" stroke="#000" stroke-width="2.7"/>
<path d="M328.2 807.5 V821.4" stroke="#000" stroke-width="2.7"/>
<path d="M463.4 807.5 V821.4" stroke="#000" stroke-width="2.7"/>
<path d="M145.80 807.5 V788.20 H166.60 V807.5" fill="#fff" stroke="#000" stroke-width="4.4" stroke-linejoin="miter"/>
<path d="M182.60 807.5 V578.40 H203.40 V807.5" fill="#999999" stroke="#000" stroke-width="4.4" stroke-linejoin="miter"/>
<path d="M219.40 807.5 V788.20 H240.20 V807.5" fill="#2e5fa8" stroke="#000" stroke-width="4.4" stroke-linejoin="miter"/>
<path d="M281.40 807.5 V785.20 H302.20 V807.5" fill="#fff" stroke="#000" stroke-width="4.4" stroke-linejoin="miter"/>
<path d="M318.20 807.5 V608.30 H339.00 V807.5" fill="#999999" stroke="#000" stroke-width="4.4" stroke-linejoin="miter"/>
<path d="M355.00 807.5 V787.20 H375.80 V807.5" fill="#2e5fa8" stroke="#000" stroke-width="4.4" stroke-linejoin="miter"/>
<path d="M417.00 807.5 V784.20 H437.80 V807.5" fill="#fff" stroke="#000" stroke-width="4.4" stroke-linejoin="miter"/>
<path d="M453.80 807.5 V564.30 H474.60 V807.5" fill="#999999" stroke="#000" stroke-width="4.4" stroke-linejoin="miter"/>
<path d="M490.60 807.5 V564.90 H511.40 V807.5" fill="#2e5fa8" stroke="#000" stroke-width="4.4" stroke-linejoin="miter"/>
<path d="M192.8 564.0 V587.1 M186.1 587.1 H199.5 " stroke="#000" stroke-width="1.3" fill="none"/>
<path d="M328.2 585.0 V623.8 M321.9 623.8 H334.5 " stroke="#000" stroke-width="1.3" fill="none"/>
<path d="M500.2 546.8 V562.7 M493.7 546.8 H506.7 " stroke="#000" stroke-width="1.3" fill="none"/>
<ellipse cx="155.9" cy="784.4" rx="5.10" ry="6.40" fill="#fff" stroke="#000" stroke-width="3.0"/>
<ellipse cx="148.8" cy="786.0" rx="5.10" ry="6.40" fill="#fff" stroke="#000" stroke-width="3.0"/>
<ellipse cx="162.9" cy="786.0" rx="5.10" ry="6.40" fill="#fff" stroke="#000" stroke-width="3.0"/>
<ellipse cx="192.8" cy="564.0" rx="5.10" ry="6.40" fill="#b4b4b4" stroke="#000" stroke-width="3.0"/>
<ellipse cx="199.9" cy="577.4" rx="5.10" ry="6.40" fill="#666666" stroke="#000" stroke-width="3.0"/>
<ellipse cx="185.9" cy="586.4" rx="5.10" ry="6.40" fill="#666666" stroke="#000" stroke-width="3.0"/>
<ellipse cx="229.8" cy="783.9" rx="5.10" ry="6.40" fill="#2e5fa8" stroke="#000" stroke-width="3.0"/>
<ellipse cx="223.0" cy="785.5" rx="5.10" ry="6.40" fill="#2e5fa8" stroke="#000" stroke-width="3.0"/>
<ellipse cx="236.7" cy="785.5" rx="5.10" ry="6.40" fill="#2e5fa8" stroke="#000" stroke-width="3.0"/>
<ellipse cx="291.5" cy="779.0" rx="5.10" ry="6.40" fill="#fff" stroke="#000" stroke-width="3.0"/>
<ellipse cx="284.7" cy="782.6" rx="5.10" ry="6.40" fill="#fff" stroke="#000" stroke-width="3.0"/>
<ellipse cx="298.8" cy="780.7" rx="5.10" ry="6.40" fill="#fff" stroke="#000" stroke-width="3.0"/>
<ellipse cx="328.2" cy="585.1" rx="5.10" ry="6.40" fill="#b4b4b4" stroke="#000" stroke-width="3.0"/>
<ellipse cx="335.3" cy="610.8" rx="5.10" ry="6.40" fill="#666666" stroke="#000" stroke-width="3.0"/>
<ellipse cx="321.1" cy="620.2" rx="5.10" ry="6.40" fill="#666666" stroke="#000" stroke-width="3.0"/>
<ellipse cx="364.6" cy="781.2" rx="5.10" ry="6.40" fill="#2e5fa8" stroke="#000" stroke-width="3.0"/>
<ellipse cx="357.6" cy="782.6" rx="5.10" ry="6.40" fill="#2e5fa8" stroke="#000" stroke-width="3.0"/>
<ellipse cx="371.6" cy="782.1" rx="5.10" ry="6.40" fill="#2e5fa8" stroke="#000" stroke-width="3.0"/>
<ellipse cx="426.6" cy="777.0" rx="5.10" ry="6.40" fill="#fff" stroke="#000" stroke-width="3.0"/>
<ellipse cx="419.3" cy="780.4" rx="5.10" ry="6.40" fill="#fff" stroke="#000" stroke-width="3.0"/>
<ellipse cx="434.2" cy="779.8" rx="5.10" ry="6.40" fill="#fff" stroke="#000" stroke-width="3.0"/>
<ellipse cx="463.1" cy="551.5" rx="5.10" ry="6.40" fill="#b4b4b4" stroke="#000" stroke-width="3.0"/>
<ellipse cx="456.1" cy="562.7" rx="5.10" ry="6.40" fill="#666666" stroke="#000" stroke-width="3.0"/>
<ellipse cx="470.7" cy="562.7" rx="5.10" ry="6.40" fill="#666666" stroke="#000" stroke-width="3.0"/>
<ellipse cx="493.7" cy="548.1" rx="5.10" ry="6.40" fill="#2e5fa8" stroke="#000" stroke-width="3.0"/>
<ellipse cx="507.2" cy="559.9" rx="5.10" ry="6.40" fill="#2e5fa8" stroke="#000" stroke-width="3.0"/>
<ellipse cx="500.2" cy="577.6" rx="5.10" ry="6.40" fill="#2e5fa8" stroke="#000" stroke-width="3.0"/>
<text x="167.5" y="870.6" font-size="24.00" letter-spacing="0.35" transform="rotate(-45 167.5 870.6)">TPR</text>
<text x="240.3" y="929.9" font-size="24.00" letter-spacing="0.60" transform="rotate(-45 240.3 929.9)">TPR 4-1BBL</text>
<text x="356.6" y="952.6" font-size="24.00" letter-spacing="0.62" transform="rotate(-45 356.6 952.6)">TPR 4-1BBL-<tspan dx="4.2">ζ</tspan></text>
<ellipse cx="112.3" cy="989.5" rx="6.70" ry="6.70" fill="#fff" stroke="#000" stroke-width="3.0"/>
<ellipse cx="112.3" cy="1034.3" rx="6.70" ry="6.70" fill="#a0a0a0" stroke="#000" stroke-width="3.0"/>
<ellipse cx="112.3" cy="1078.9" rx="6.70" ry="6.70" fill="#2e5fa8" stroke="#000" stroke-width="3.0"/>
<text x="147.9" y="998.5" font-size="24.00" textLength="145.8" lengthAdjust="spacingAndGlyphs">unstimulated</text>
<text x="147.9" y="1043.0" font-size="24.00" textLength="169.1" lengthAdjust="spacingAndGlyphs">K562 anti-CD3</text>
<text x="147.9" y="1088.0" font-size="24.00" textLength="138.8" lengthAdjust="spacingAndGlyphs">K562 4-1BB</text>
<path d="M703.4 807.6 H1118" stroke="#000" stroke-width="4.4"/>
<path d="M720.10 492.9 V807.6" stroke="#000" stroke-width="3.80"/>
<path d="M703.3 495.10 H722.00" stroke="#000" stroke-width="4.40"/>
<text x="701.6" y="503.7" font-size="23.00" text-anchor="end">500</text>
<path d="M703.3 557.60 H722.00" stroke="#000" stroke-width="4.40"/>
<text x="701.6" y="566.2" font-size="23.00" text-anchor="end">400</text>
<path d="M703.3 620.10 H722.00" stroke="#000" stroke-width="4.40"/>
<text x="701.6" y="628.7" font-size="23.00" text-anchor="end">300</text>
<path d="M703.3 682.60 H722.00" stroke="#000" stroke-width="4.40"/>
<text x="701.6" y="691.2" font-size="23.00" text-anchor="end">200</text>
<path d="M703.3 745.10 H722.00" stroke="#000" stroke-width="4.40"/>
<text x="701.6" y="753.7" font-size="23.00" text-anchor="end">100</text>
<path d="M703.3 807.60 H722.00" stroke="#000" stroke-width="4.40"/>
<text x="701.6" y="816.2" font-size="23.00" text-anchor="end">0</text>
<text x="632.5" y="640.3" font-size="22.00" text-anchor="middle" textLength="178.0" lengthAdjust="spacingAndGlyphs" transform="rotate(-90 632.5 640.3)">gMFI NFκB-eCFP</text>
<path d="M917.4 807.6 V816" stroke="#000" stroke-width="3"/>
<path d="M735.90 807.6 V761.40 H761.00 V807.6" fill="#fff" stroke="#000" stroke-width="3.8" stroke-linejoin="miter"/>
<path d="M778.35 807.6 V572.70 H803.45 V807.6" fill="#2e5fa8" stroke="#000" stroke-width="3.8" stroke-linejoin="miter"/>
<path d="M820.80 807.6 V603.00 H845.90 V807.6" fill="#3572c4" stroke="#000" stroke-width="3.8" stroke-linejoin="miter"/>
<path d="M863.25 807.6 V643.20 H888.35 V807.6" fill="#4680d0" stroke="#000" stroke-width="3.8" stroke-linejoin="miter"/>
<path d="M905.70 807.6 V703.10 H930.80 V807.6" fill="#5b8ed6" stroke="#000" stroke-width="3.8" stroke-linejoin="miter"/>
<path d="M948.15 807.6 V715.50 H973.25 V807.6" fill="#7ea6e0" stroke="#000" stroke-width="3.8" stroke-linejoin="miter"/>
<path d="M990.60 807.6 V738.50 H1015.70 V807.6" fill="#a6c2ea" stroke="#000" stroke-width="3.8" stroke-linejoin="miter"/>
<path d="M1033.05 807.6 V747.10 H1058.15 V807.6" fill="#c8daf3" stroke="#000" stroke-width="3.8" stroke-linejoin="miter"/>
<path d="M1075.50 807.6 V754.70 H1100.60 V807.6" fill="#e4ecf9" stroke="#000" stroke-width="3.8" stroke-linejoin="miter"/>
<path d="M833.2 577.1 V601.4 M825.8 577.1 H840.6 " stroke="#000" stroke-width="1.2" fill="none"/>
<path d="M875.6 612.5 V641.3 M868.2 612.5 H883.0 " stroke="#000" stroke-width="1.2" fill="none"/>
<path d="M918.4 696.0 V701.2 M913.4 696.0 H923.4 " stroke="#000" stroke-width="1.2" fill="none"/>
<ellipse cx="738.3" cy="759.0" rx="4.10" ry="5.90" fill="#fff" stroke="#000" stroke-width="2.3"/>
<ellipse cx="747.9" cy="756.6" rx="4.10" ry="5.90" fill="#fff" stroke="#000" stroke-width="2.3"/>
<ellipse cx="757.6" cy="759.0" rx="4.10" ry="5.90" fill="#fff" stroke="#000" stroke-width="2.3"/>
<ellipse cx="780.9" cy="570.8" rx="4.10" ry="5.90" fill="#2e5fa8" stroke="#000" stroke-width="2.3"/>
<ellipse cx="790.7" cy="564.9" rx="4.10" ry="5.90" fill="#2e5fa8" stroke="#000" stroke-width="2.3"/>
<ellipse cx="800.9" cy="570.2" rx="4.10" ry="5.90" fill="#2e5fa8" stroke="#000" stroke-width="2.3"/>
<ellipse cx="833.2" cy="574.0" rx="4.10" ry="5.90" fill="#3572c4" stroke="#000" stroke-width="2.3"/>
<ellipse cx="823.5" cy="617.9" rx="4.10" ry="5.90" fill="#3572c4" stroke="#000" stroke-width="2.3"/>
<ellipse cx="842.9" cy="610.2" rx="4.10" ry="5.90" fill="#3572c4" stroke="#000" stroke-width="2.3"/>
<ellipse cx="875.6" cy="608.4" rx="4.10" ry="5.90" fill="#4680d0" stroke="#000" stroke-width="2.3"/>
<ellipse cx="865.6" cy="660.9" rx="4.10" ry="5.90" fill="#4680d0" stroke="#000" stroke-width="2.3"/>
<ellipse cx="885.5" cy="653.4" rx="4.10" ry="5.90" fill="#4680d0" stroke="#000" stroke-width="2.3"/>
<ellipse cx="918.4" cy="692.9" rx="4.10" ry="5.90" fill="#5b8ed6" stroke="#000" stroke-width="2.3"/>
<ellipse cx="908.8" cy="705.6" rx="4.10" ry="5.90" fill="#5b8ed6" stroke="#000" stroke-width="2.3"/>
<ellipse cx="928.4" cy="699.8" rx="4.10" ry="5.90" fill="#5b8ed6" stroke="#000" stroke-width="2.3"/>
<ellipse cx="961.1" cy="710.8" rx="4.10" ry="5.90" fill="#7ea6e0" stroke="#000" stroke-width="2.3"/>
<ellipse cx="951.1" cy="716.0" rx="4.10" ry="5.90" fill="#7ea6e0" stroke="#000" stroke-width="2.3"/>
<ellipse cx="970.7" cy="712.5" rx="4.10" ry="5.90" fill="#7ea6e0" stroke="#000" stroke-width="2.3"/>
<ellipse cx="1003.7" cy="731.4" rx="4.10" ry="5.90" fill="#a6c2ea" stroke="#000" stroke-width="2.3"/>
<ellipse cx="993.8" cy="736.6" rx="4.10" ry="5.90" fill="#a6c2ea" stroke="#000" stroke-width="2.3"/>
<ellipse cx="1013.4" cy="735.9" rx="4.10" ry="5.90" fill="#a6c2ea" stroke="#000" stroke-width="2.3"/>
<ellipse cx="1045.7" cy="742.4" rx="4.10" ry="5.90" fill="#c8daf3" stroke="#000" stroke-width="2.3"/>
<ellipse cx="1036.1" cy="746.2" rx="4.10" ry="5.90" fill="#c8daf3" stroke="#000" stroke-width="2.3"/>
<ellipse cx="1055.7" cy="744.5" rx="4.10" ry="5.90" fill="#c8daf3" stroke="#000" stroke-width="2.3"/>
<ellipse cx="1088.4" cy="750.4" rx="4.10" ry="5.90" fill="#e4ecf9" stroke="#000" stroke-width="2.3"/>
<ellipse cx="1078.7" cy="754.8" rx="4.10" ry="5.90" fill="#e4ecf9" stroke="#000" stroke-width="2.3"/>
<ellipse cx="1098.7" cy="751.4" rx="4.10" ry="5.90" fill="#e4ecf9" stroke="#000" stroke-width="2.3"/>
<text x="842.7" y="841.5" font-size="24.00" textLength="146.7" lengthAdjust="spacingAndGlyphs">TPR 4-1BBL-ζ</text>
<ellipse cx="645.5" cy="939.2" rx="6.40" ry="6.40" fill="#fff" stroke="#000" stroke-width="3.0"/>
<text x="669.1" y="949.4" font-size="24.00" textLength="139.8" lengthAdjust="spacingAndGlyphs">unstimulated</text>
<ellipse cx="645.5" cy="980.0" rx="6.40" ry="6.40" fill="#2e5fa8" stroke="#000" stroke-width="3.0"/>
<text x="669.1" y="985.9" font-size="24.00" textLength="271.1" lengthAdjust="spacingAndGlyphs">K562 4-1BB 20.000 cells</text>
<ellipse cx="645.5" cy="1017.0" rx="6.40" ry="6.40" fill="#3572c4" stroke="#000" stroke-width="3.0"/>
<text x="669.1" y="1022.6" font-size="24.00" textLength="132.2" lengthAdjust="spacingAndGlyphs">10.000 cells</text>
<ellipse cx="645.5" cy="1053.4" rx="6.40" ry="6.40" fill="#4680d0" stroke="#000" stroke-width="3.0"/>
<text x="669.1" y="1059.1" font-size="24.00" textLength="118.1" lengthAdjust="spacingAndGlyphs">5.000 cells</text>
<ellipse cx="645.5" cy="1089.7" rx="6.40" ry="6.40" fill="#5b8ed6" stroke="#000" stroke-width="3.0"/>
<text x="669.1" y="1095.5" font-size="24.00" textLength="118.1" lengthAdjust="spacingAndGlyphs">2.500 cells</text>
<ellipse cx="978.2" cy="980.0" rx="6.40" ry="6.40" fill="#7ea6e0" stroke="#000" stroke-width="3.0"/>
<text x="994.7" y="985.9" font-size="24.00" textLength="118.9" lengthAdjust="spacingAndGlyphs">1.200 cells</text>
<ellipse cx="978.2" cy="1017.0" rx="6.40" ry="6.40" fill="#a6c2ea" stroke="#000" stroke-width="3.0"/>
<text x="994.7" y="1022.6" font-size="24.00" textLength="98.0" lengthAdjust="spacingAndGlyphs">600 cells</text>
<ellipse cx="978.2" cy="1053.4" rx="6.40" ry="6.40" fill="#c8daf3" stroke="#000" stroke-width="3.0"/>
<text x="994.7" y="1059.1" font-size="24.00" textLength="98.0" lengthAdjust="spacingAndGlyphs">300 cells</text>
<ellipse cx="978.2" cy="1089.7" rx="6.40" ry="6.40" fill="#e4ecf9" stroke="#000" stroke-width="3.0"/>
<text x="994.7" y="1095.5" font-size="24.00" textLength="98.0" lengthAdjust="spacingAndGlyphs">150 cells</text>
<path d="M1270.6 807.0 H2000" stroke="#000" stroke-width="3.5"/>
<path d="M1289.2 484.8 V807.0" stroke="#000" stroke-width="3.4"/>
<path d="M1271 486.9 H1290.9" stroke="#000" stroke-width="4"/>
<path d="M1271 602.0 H1290.9" stroke="#000" stroke-width="4"/>
<path d="M1271 717.7 H1290.9" stroke="#000" stroke-width="4"/>
<text x="1259.9" y="496.1" font-size="23.20" text-anchor="end">1500</text>
<text x="1266.7" y="614.0" font-size="23.00" text-anchor="end" font-family="'DejaVu Sans', sans-serif">1000</text>
<text x="1268.0" y="726.8" font-size="23.00" text-anchor="end" font-family="'DejaVu Sans', sans-serif">500</text>
<text x="1268.6" y="812.7" font-size="23.00" text-anchor="end" font-family="'DejaVu Sans', sans-serif">0</text>
<text x="1184.0" y="641.0" font-size="22.00" text-anchor="middle" textLength="180.0" lengthAdjust="spacingAndGlyphs" transform="rotate(-90 1184.0 641.0)">gMFI NFκB-eCFP</text>
<path d="M1308.0 807.0 V820.8" stroke="#000" stroke-width="3.2"/>
<path d="M1337.5 807.0 V820.8" stroke="#000" stroke-width="3.2"/>
<path d="M1367.6 807.0 V820.8" stroke="#000" stroke-width="3.2"/>
<path d="M1397.6 807.0 V820.8" stroke="#000" stroke-width="3.2"/>
<path d="M1428.0 807.0 V820.8" stroke="#000" stroke-width="3.2"/>
<path d="M1458.4 807.0 V820.8" stroke="#000" stroke-width="3.2"/>
<path d="M1488.4 807.0 V820.8" stroke="#000" stroke-width="3.2"/>
<path d="M1538.6 807.0 V820.8" stroke="#000" stroke-width="3.2"/>
<path d="M1569.0 807.0 V820.8" stroke="#000" stroke-width="3.2"/>
<path d="M1605.0 807.0 V820.8" stroke="#000" stroke-width="3.2"/>
<path d="M1635.6 807.0 V820.8" stroke="#000" stroke-width="3.2"/>
<path d="M1666.0 807.0 V820.8" stroke="#000" stroke-width="3.2"/>
<path d="M1696.0 807.0 V820.8" stroke="#000" stroke-width="3.2"/>
<path d="M1732.0 807.0 V820.8" stroke="#000" stroke-width="3.2"/>
<path d="M1782.0 807.0 V823.0" stroke="#000" stroke-width="3.2"/>
<path d="M1814.0 807.0 V823.0" stroke="#000" stroke-width="3.2"/>
<path d="M1847.0 807.0 V820.8" stroke="#000" stroke-width="3.2"/>
<path d="M1876.6 807.0 V820.8" stroke="#000" stroke-width="3.2"/>
<path d="M1910.6 807.0 V820.8" stroke="#000" stroke-width="3.2"/>
<path d="M1941.4 807.0 V820.8" stroke="#000" stroke-width="3.2"/>
<path d="M1972.4 807.0 V819.6" stroke="#000" stroke-width="3.2"/>
<path d="M1300.20 807.0 V780.50 H1317.70 V807.0" fill="#fff" stroke="#000" stroke-width="3.0" stroke-linejoin="miter"/>
<path d="M1331.60 807.0 V563.40 H1348.40 V807.0" fill="#2e5fa8" stroke="#000" stroke-width="3.0" stroke-linejoin="miter"/>
<path d="M1363.00 807.0 V553.00 H1379.50 V807.0" fill="#505050" stroke="#000" stroke-width="3.0" stroke-linejoin="miter"/>
<path d="M1394.70 807.0 V554.80 H1411.20 V807.0" fill="#6a6a6a" stroke="#000" stroke-width="3.0" stroke-linejoin="miter"/>
<path d="M1426.20 807.0 V559.90 H1442.60 V807.0" fill="#858585" stroke="#000" stroke-width="3.0" stroke-linejoin="miter"/>
<path d="M1457.20 807.0 V551.30 H1473.70 V807.0" fill="#9c9c9c" stroke="#000" stroke-width="3.0" stroke-linejoin="miter"/>
<path d="M1488.80 807.0 V565.80 H1505.30 V807.0" fill="#b8b8b8" stroke="#000" stroke-width="3.0" stroke-linejoin="miter"/>
<path d="M1540.80 807.0 V780.50 H1558.00 V807.0" fill="#fff" stroke="#000" stroke-width="3.0" stroke-linejoin="miter"/>
<path d="M1572.40 807.0 V558.20 H1589.00 V807.0" fill="#2e5fa8" stroke="#000" stroke-width="3.0" stroke-linejoin="miter"/>
<path d="M1603.70 807.0 V541.70 H1620.30 V807.0" fill="#505050" stroke="#000" stroke-width="3.0" stroke-linejoin="miter"/>
<path d="M1635.40 807.0 V551.30 H1651.90 V807.0" fill="#6a6a6a" stroke="#000" stroke-width="3.0" stroke-linejoin="miter"/>
<path d="M1667.10 807.0 V551.30 H1683.60 V807.0" fill="#858585" stroke="#000" stroke-width="3.0" stroke-linejoin="miter"/>
<path d="M1698.40 807.0 V547.90 H1714.90 V807.0" fill="#9c9c9c" stroke="#000" stroke-width="3.0" stroke-linejoin="miter"/>
<path d="M1730.00 807.0 V556.50 H1746.60 V807.0" fill="#b8b8b8" stroke="#000" stroke-width="3.0" stroke-linejoin="miter"/>
<path d="M1782.30 807.0 V780.50 H1799.40 V807.0" fill="#fff" stroke="#000" stroke-width="3.0" stroke-linejoin="miter"/>
<path d="M1813.70 807.0 V556.50 H1830.20 V807.0" fill="#2e5fa8" stroke="#000" stroke-width="3.0" stroke-linejoin="miter"/>
<path d="M1845.30 807.0 V601.20 H1861.80 V807.0" fill="#505050" stroke="#000" stroke-width="3.0" stroke-linejoin="miter"/>
<path d="M1877.00 807.0 V586.40 H1893.50 V807.0" fill="#6a6a6a" stroke="#000" stroke-width="3.0" stroke-linejoin="miter"/>
<path d="M1908.30 807.0 V570.20 H1924.80 V807.0" fill="#858585" stroke="#000" stroke-width="3.0" stroke-linejoin="miter"/>
<path d="M1939.90 807.0 V562.30 H1956.50 V807.0" fill="#9c9c9c" stroke="#000" stroke-width="3.0" stroke-linejoin="miter"/>
<path d="M1971.50 807.0 V565.10 H1987.90 V807.0" fill="#b8b8b8" stroke="#000" stroke-width="3.0" stroke-linejoin="miter"/>
<path d="M1497.0 534.3 V596.3 M1491.0 534.3 H1503.0 " stroke="#000" stroke-width="1.3" fill="none"/>
<ellipse cx="1314.1" cy="776.0" rx="5.50" ry="5.50" fill="#fff" stroke="#000" stroke-width="2.6"/>
<ellipse cx="1308.8" cy="775.2" rx="5.50" ry="5.50" fill="#fff" stroke="#000" stroke-width="2.6"/>
<ellipse cx="1303.7" cy="774.7" rx="5.50" ry="5.50" fill="#fff" stroke="#000" stroke-width="2.6"/>
<ellipse cx="1334.8" cy="563.3" rx="5.50" ry="5.50" fill="#2e5fa8" stroke="#000" stroke-width="2.6"/>
<ellipse cx="1344.8" cy="562.6" rx="5.50" ry="5.50" fill="#2e5fa8" stroke="#000" stroke-width="2.6"/>
<ellipse cx="1339.6" cy="557.6" rx="5.50" ry="5.50" fill="#2e5fa8" stroke="#000" stroke-width="2.6"/>
<ellipse cx="1366.5" cy="551.7" rx="5.50" ry="5.50" fill="#505050" stroke="#000" stroke-width="2.6"/>
<ellipse cx="1376.0" cy="549.4" rx="5.50" ry="5.50" fill="#505050" stroke="#000" stroke-width="2.6"/>
<ellipse cx="1371.0" cy="544.3" rx="5.50" ry="5.50" fill="#505050" stroke="#000" stroke-width="2.6"/>
<ellipse cx="1398.2" cy="555.3" rx="5.50" ry="5.50" fill="#6a6a6a" stroke="#000" stroke-width="2.6"/>
<ellipse cx="1407.7" cy="549.9" rx="5.50" ry="5.50" fill="#6a6a6a" stroke="#000" stroke-width="2.6"/>
<ellipse cx="1402.3" cy="549.0" rx="5.50" ry="5.50" fill="#6a6a6a" stroke="#000" stroke-width="2.6"/>
<ellipse cx="1429.9" cy="559.4" rx="5.50" ry="5.50" fill="#858585" stroke="#000" stroke-width="2.6"/>
<ellipse cx="1439.4" cy="557.3" rx="5.50" ry="5.50" fill="#858585" stroke="#000" stroke-width="2.6"/>
<ellipse cx="1434.4" cy="552.2" rx="5.50" ry="5.50" fill="#858585" stroke="#000" stroke-width="2.6"/>
<ellipse cx="1459.8" cy="551.5" rx="5.50" ry="5.50" fill="#9c9c9c" stroke="#000" stroke-width="2.6"/>
<ellipse cx="1471.9" cy="549.8" rx="5.50" ry="5.50" fill="#9c9c9c" stroke="#000" stroke-width="2.6"/>
<ellipse cx="1465.7" cy="542.3" rx="5.50" ry="5.50" fill="#9c9c9c" stroke="#000" stroke-width="2.6"/>
<ellipse cx="1492.5" cy="542.3" rx="5.50" ry="5.50" fill="#b8b8b8" stroke="#000" stroke-width="2.6"/>
<ellipse cx="1497.0" cy="596.3" rx="5.50" ry="5.50" fill="#b8b8b8" stroke="#000" stroke-width="2.6"/>
<ellipse cx="1501.8" cy="550.9" rx="5.50" ry="5.50" fill="#b8b8b8" stroke="#000" stroke-width="2.6"/>
<ellipse cx="1555.1" cy="776.2" rx="5.50" ry="5.50" fill="#fff" stroke="#000" stroke-width="2.6"/>
<ellipse cx="1550.6" cy="776.2" rx="5.50" ry="5.50" fill="#fff" stroke="#000" stroke-width="2.6"/>
<ellipse cx="1545.4" cy="777.6" rx="5.50" ry="5.50" fill="#fff" stroke="#000" stroke-width="2.6"/>
<ellipse cx="1575.7" cy="559.4" rx="5.50" ry="5.50" fill="#2e5fa8" stroke="#000" stroke-width="2.6"/>
<ellipse cx="1586.0" cy="555.0" rx="5.50" ry="5.50" fill="#2e5fa8" stroke="#000" stroke-width="2.6"/>
<ellipse cx="1580.9" cy="549.1" rx="5.50" ry="5.50" fill="#2e5fa8" stroke="#000" stroke-width="2.6"/>
<ellipse cx="1607.4" cy="544.6" rx="5.50" ry="5.50" fill="#505050" stroke="#000" stroke-width="2.6"/>
<ellipse cx="1617.0" cy="537.7" rx="5.50" ry="5.50" fill="#505050" stroke="#000" stroke-width="2.6"/>
<ellipse cx="1611.8" cy="537.7" rx="5.50" ry="5.50" fill="#505050" stroke="#000" stroke-width="2.6"/>
<ellipse cx="1639.4" cy="553.2" rx="5.50" ry="5.50" fill="#6a6a6a" stroke="#000" stroke-width="2.6"/>
<ellipse cx="1649.0" cy="550.8" rx="5.50" ry="5.50" fill="#6a6a6a" stroke="#000" stroke-width="2.6"/>
<ellipse cx="1643.8" cy="542.9" rx="5.50" ry="5.50" fill="#6a6a6a" stroke="#000" stroke-width="2.6"/>
<ellipse cx="1670.3" cy="551.5" rx="5.50" ry="5.50" fill="#858585" stroke="#000" stroke-width="2.6"/>
<ellipse cx="1679.6" cy="549.1" rx="5.50" ry="5.50" fill="#858585" stroke="#000" stroke-width="2.6"/>
<ellipse cx="1674.8" cy="542.2" rx="5.50" ry="5.50" fill="#858585" stroke="#000" stroke-width="2.6"/>
<ellipse cx="1702.0" cy="547.4" rx="5.50" ry="5.50" fill="#9c9c9c" stroke="#000" stroke-width="2.6"/>
<ellipse cx="1711.6" cy="547.4" rx="5.50" ry="5.50" fill="#9c9c9c" stroke="#000" stroke-width="2.6"/>
<ellipse cx="1706.5" cy="538.8" rx="5.50" ry="5.50" fill="#9c9c9c" stroke="#000" stroke-width="2.6"/>
<ellipse cx="1733.3" cy="557.4" rx="5.50" ry="5.50" fill="#b8b8b8" stroke="#000" stroke-width="2.6"/>
<ellipse cx="1742.6" cy="552.5" rx="5.50" ry="5.50" fill="#b8b8b8" stroke="#000" stroke-width="2.6"/>
<ellipse cx="1738.1" cy="549.8" rx="5.50" ry="5.50" fill="#b8b8b8" stroke="#000" stroke-width="2.6"/>
<ellipse cx="1795.9" cy="776.2" rx="5.50" ry="5.50" fill="#fff" stroke="#000" stroke-width="2.6"/>
<ellipse cx="1791.5" cy="776.2" rx="5.50" ry="5.50" fill="#fff" stroke="#000" stroke-width="2.6"/>
<ellipse cx="1786.3" cy="777.6" rx="5.50" ry="5.50" fill="#fff" stroke="#000" stroke-width="2.6"/>
<ellipse cx="1817.3" cy="558.4" rx="5.50" ry="5.50" fill="#2e5fa8" stroke="#000" stroke-width="2.6"/>
<ellipse cx="1826.9" cy="553.2" rx="5.50" ry="5.50" fill="#2e5fa8" stroke="#000" stroke-width="2.6"/>
<ellipse cx="1822.1" cy="545.3" rx="5.50" ry="5.50" fill="#2e5fa8" stroke="#000" stroke-width="2.6"/>
<ellipse cx="1848.6" cy="599.7" rx="5.50" ry="5.50" fill="#505050" stroke="#000" stroke-width="2.6"/>
<ellipse cx="1857.9" cy="599.0" rx="5.50" ry="5.50" fill="#505050" stroke="#000" stroke-width="2.6"/>
<ellipse cx="1853.4" cy="593.8" rx="5.50" ry="5.50" fill="#505050" stroke="#000" stroke-width="2.6"/>
<ellipse cx="1880.2" cy="573.9" rx="5.50" ry="5.50" fill="#6a6a6a" stroke="#000" stroke-width="2.6"/>
<ellipse cx="1884.7" cy="594.5" rx="5.50" ry="5.50" fill="#6a6a6a" stroke="#000" stroke-width="2.6"/>
<ellipse cx="1889.5" cy="579.0" rx="5.50" ry="5.50" fill="#6a6a6a" stroke="#000" stroke-width="2.6"/>
<ellipse cx="1916.4" cy="552.5" rx="5.50" ry="5.50" fill="#858585" stroke="#000" stroke-width="2.6"/>
<ellipse cx="1911.2" cy="579.0" rx="5.50" ry="5.50" fill="#858585" stroke="#000" stroke-width="2.6"/>
<ellipse cx="1921.5" cy="568.7" rx="5.50" ry="5.50" fill="#858585" stroke="#000" stroke-width="2.6"/>
<ellipse cx="1943.2" cy="558.4" rx="5.50" ry="5.50" fill="#9c9c9c" stroke="#000" stroke-width="2.6"/>
<ellipse cx="1953.2" cy="557.4" rx="5.50" ry="5.50" fill="#9c9c9c" stroke="#000" stroke-width="2.6"/>
<ellipse cx="1948.0" cy="555.0" rx="5.50" ry="5.50" fill="#9c9c9c" stroke="#000" stroke-width="2.6"/>
<ellipse cx="1974.9" cy="553.2" rx="5.50" ry="5.50" fill="#b8b8b8" stroke="#000" stroke-width="2.6"/>
<ellipse cx="1974.9" cy="571.1" rx="5.50" ry="5.50" fill="#b8b8b8" stroke="#000" stroke-width="2.6"/>
<ellipse cx="1984.2" cy="560.8" rx="5.50" ry="5.50" fill="#b8b8b8" stroke="#000" stroke-width="2.6"/>
<text x="1335.6" y="481.0" font-size="22.50" textLength="135.9" lengthAdjust="spacingAndGlyphs">+Utomilumab</text>
<text x="1605.4" y="481.0" font-size="22.50" textLength="112.1" lengthAdjust="spacingAndGlyphs">+Urelumab</text>
<text x="1853.8" y="481.0" font-size="22.50" textLength="114.9" lengthAdjust="spacingAndGlyphs">+polyclonal</text>
<text x="1868.6" y="508.5" font-size="22.50" textLength="84.3" lengthAdjust="spacingAndGlyphs">α-4-1BB</text>
<text x="1312.1" y="831.2" font-size="23.50" text-anchor="end" transform="rotate(-45 1312.1 831.2)">unstimulated</text>
<text x="1340.5" y="835.2" font-size="23.50" text-anchor="end" transform="rotate(-45 1340.5 835.2)">K562 4-1BB</text>
<text x="1376.5" y="829.2" font-size="23.50" text-anchor="end" transform="rotate(-45 1376.5 829.2)">30 µg/ml</text>
<text x="1407.5" y="829.2" font-size="23.50" text-anchor="end" transform="rotate(-45 1407.5 829.2)">10 µg/ml</text>
<text x="1439.5" y="829.2" font-size="23.50" text-anchor="end" transform="rotate(-45 1439.5 829.2)">3 µg/ml</text>
<text x="1473.5" y="829.2" font-size="23.50" text-anchor="end" transform="rotate(-45 1473.5 829.2)">1 µg/ml</text>
<text x="1502.5" y="830.2" font-size="23.50" text-anchor="end" transform="rotate(-45 1502.5 830.2)">0.3 µg/ml</text>
<text x="1551.5" y="834.2" font-size="23.50" text-anchor="end" transform="rotate(-45 1551.5 834.2)">unstimulated</text>
<text x="1581.5" y="835.2" font-size="23.50" text-anchor="end" transform="rotate(-45 1581.5 835.2)">K562 4-1BB</text>
<text x="1620.5" y="830.2" font-size="23.50" text-anchor="end" transform="rotate(-45 1620.5 830.2)">30 µg/ml</text>
<text x="1651.5" y="830.2" font-size="23.50" text-anchor="end" transform="rotate(-45 1651.5 830.2)">10 µg/ml</text>
<text x="1683.5" y="830.2" font-size="23.50" text-anchor="end" transform="rotate(-45 1683.5 830.2)">3 µg/ml</text>
<text x="1718.5" y="830.2" font-size="23.50" text-anchor="end" transform="rotate(-45 1718.5 830.2)">1 µg/ml</text>
<text x="1750.1" y="830.2" font-size="23.50" text-anchor="end" transform="rotate(-45 1750.1 830.2)">0.3 µg/ml</text>
<text x="1792.5" y="834.2" font-size="23.50" text-anchor="end" transform="rotate(-45 1792.5 834.2)">unstimulated</text>
<text x="1824.1" y="834.2" font-size="23.50" text-anchor="end" transform="rotate(-45 1824.1 834.2)">K562 4-1BB</text>
<text x="1862.5" y="829.2" font-size="23.50" text-anchor="end" transform="rotate(-45 1862.5 829.2)">30 µg/ml</text>
<text x="1894.5" y="829.2" font-size="23.50" text-anchor="end" transform="rotate(-45 1894.5 829.2)">10 µg/ml</text>
<text x="1925.5" y="830.2" font-size="23.50" text-anchor="end" transform="rotate(-45 1925.5 830.2)">3 µg/ml</text>
<text x="1960.5" y="830.2" font-size="23.50" text-anchor="end" transform="rotate(-45 1960.5 830.2)">1 µg/ml</text>
<text x="1990.5" y="836.2" font-size="23.50" text-anchor="end" transform="rotate(-45 1990.5 836.2)">0.3 µg/ml</text>
</svg>
</body></html>
